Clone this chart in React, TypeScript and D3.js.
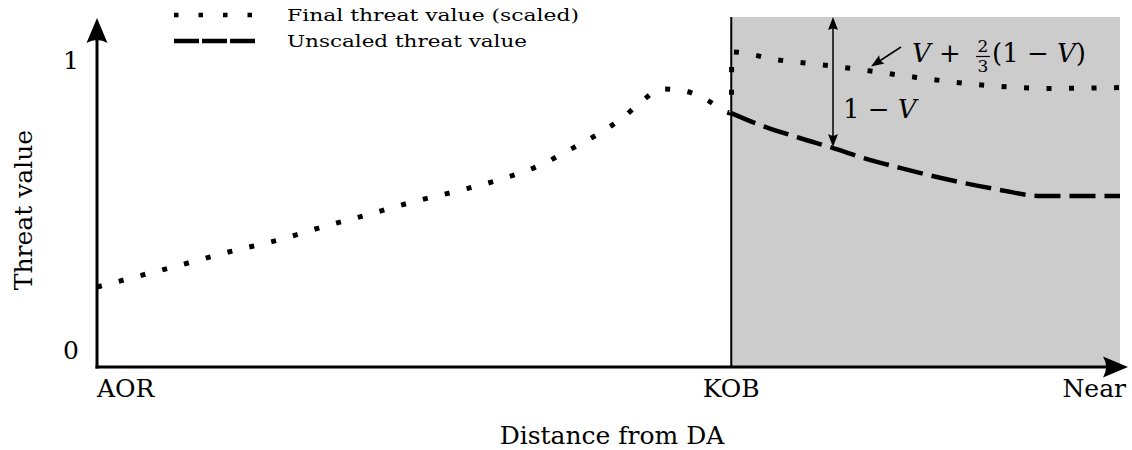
import { useRef, useEffect } from "react";
import { select, scaleLinear, line, curveMonotoneX } from "d3";

// distance: AOR = 0 ... Near = 100
const xTickLabels = ["AOR", "KOB", "Near"];
const xTickPos = [0, 62, 100];
const yTicks = [0, 1];

const finalDist = [
  0, 4.5, 8.9, 13.2, 17.7, 22, 26.4, 30.8, 35.2, 39.6, 43.8, 45.8, 47.8,
  49.8, 51.6, 53.3, 55.2, 57.5, 59.6, 62, 62.05, 66.6, 71, 75.6, 80.1, 84.7,
  89.1, 93.5, 100,
];
const finalValue = [
  0.217, 0.259, 0.3, 0.341, 0.379, 0.424, 0.466, 0.51, 0.548, 0.59, 0.645,
  0.683, 0.721, 0.762, 0.807, 0.859, 0.9, 0.893, 0.862, 0.817, 1.028, 1.0,
  0.983, 0.962, 0.94, 0.92, 0.907, 0.902, 0.905,
];

const unscaledDist = [62, 64.8, 68.7, 71.9, 75.6, 78.5, 83.4, 88.3, 92.2, 94.1, 100];
const unscaledValue = [0.817, 0.776, 0.731, 0.697, 0.655, 0.628, 0.586, 0.552, 0.531, 0.531, 0.531];

const legendLabels = ["Final threat value (scaled)", "Unscaled threat value"];

const W = 1132;
const H = 450;
const FONT = "'DejaVu Serif', serif";

const App = () => {
  const ref = useRef<SVGSVGElement>(null);

  useEffect(() => {
    if (!ref.current) return;
    const svg = select(ref.current);
    svg.selectAll("*").remove();

    const x = scaleLinear().domain([0, 100]).range([97, 1120]);
    const y = scaleLinear().domain([0, 1]).range([350, 60]);
    const baseY = 367;
    const topY = 17;

    const arrowHead = (tx: number, ty: number, angle: number, len: number, wid: number) =>
      svg
        .append("path")
        .attr(
          "d",
          `M0,0 L${-len},${-wid / 2} Q${-len * 0.75},0 ${-len},${wid / 2} Z`
        )
        .attr("transform", `translate(${tx},${ty}) rotate(${angle})`)
        .attr("fill", "#000");

    // shaded region beyond KOB
    svg
      .append("rect")
      .attr("x", x(62))
      .attr("y", topY)
      .attr("width", x(100) - x(62))
      .attr("height", baseY - topY)
      .attr("fill", "#cccccc");

    // KOB line
    svg
      .append("line")
      .attr("x1", x(62))
      .attr("x2", x(62))
      .attr("y1", topY)
      .attr("y2", baseY)
      .attr("stroke", "#000")
      .attr("stroke-width", 2);

    // axes
    svg
      .append("line")
      .attr("x1", x(0))
      .attr("x2", x(0))
      .attr("y1", baseY + 1.5)
      .attr("y2", 30)
      .attr("stroke", "#000")
      .attr("stroke-width", 3);
    arrowHead(x(0), 18, -90, 25, 21);
    svg
      .append("line")
      .attr("x1", x(0) - 1.5)
      .attr("x2", 1115)
      .attr("y1", baseY)
      .attr("y2", baseY)
      .attr("stroke", "#000")
      .attr("stroke-width", 3);
    arrowHead(1128, baseY, 0, 25, 21);

    const text = (
      str: string,
      tx: number,
      ty: number,
      size: number,
      anchor = "start",
      italic = false
    ) =>
      svg
        .append("text")
        .attr("x", tx)
        .attr("y", ty)
        .attr("font-family", FONT)
        .attr("font-size", size)
        .attr("font-style", italic ? "italic" : "normal")
        .attr("text-anchor", anchor)
        .attr("fill", "#000")
        .text(str);

    // y ticks
    yTicks.forEach((t) => text(String(t), 79, y(t) + 9, 25, "end"));

    // x tick labels
    xTickLabels.forEach((lab, i) => {
      const anchor = i === 0 ? "start" : i === xTickLabels.length - 1 ? "end" : "middle";
      const px = i === xTickLabels.length - 1 ? x(xTickPos[i]) + 6 : x(xTickPos[i]);
      text(lab, px, 397, 25, anchor);
    });

    text("Distance from DA", 612, 444, 25, "middle");
    svg
      .append("text")
      .attr("transform", "translate(32,210) rotate(-90)")
      .attr("font-family", FONT)
      .attr("font-size", 25)
      .attr("text-anchor", "middle")
      .text("Threat value");

    // curves
    const finalLine = line<number>()
      .x((_d, i) => x(finalDist[i]))
      .y((d) => y(d))
      .curve(curveMonotoneX);
    svg
      .append("path")
      .attr("d", finalLine(finalValue))
      .attr("fill", "none")
      .attr("stroke", "#000")
      .attr("stroke-width", 5)
      .attr("stroke-dasharray", "5 17.5");

    const unscaledLine = line<number>()
      .x((_d, i) => x(unscaledDist[i]))
      .y((d) => y(d))
      .curve(curveMonotoneX);
    svg
      .append("path")
      .attr("d", unscaledLine(unscaledValue))
      .attr("fill", "none")
      .attr("stroke", "#000")
      .attr("stroke-width", 4.5)
      .attr("stroke-dasharray", "26 9");

    // annotation: 1 - V double arrow
    const ax = 833;
    const k = unscaledDist.findIndex((d) => d >= x.invert(ax));
    const t0 = (x.invert(ax) - unscaledDist[k - 1]) / (unscaledDist[k] - unscaledDist[k - 1]);
    const vAt = unscaledValue[k - 1] + t0 * (unscaledValue[k] - unscaledValue[k - 1]);
    const ay = y(vAt) - 1;
    svg
      .append("line")
      .attr("x1", ax)
      .attr("x2", ax)
      .attr("y1", topY + 8)
      .attr("y2", ay - 8)
      .attr("stroke", "#000")
      .attr("stroke-width", 1.5);
    arrowHead(ax, topY, -90, 13, 10);
    arrowHead(ax, ay, 90, 13, 10);

    const lab1 = svg
      .append("text")
      .attr("x", 843)
      .attr("y", 118)
      .attr("font-family", FONT)
      .attr("font-size", 26);
    lab1.append("tspan").text("1 − ");
    lab1.append("tspan").attr("font-style", "italic").text("V");

    // annotation: V + 2/3(1 - V)
    svg
      .append("line")
      .attr("x1", 901)
      .attr("y1", 47)
      .attr("x2", 878)
      .attr("y2", 62)
      .attr("stroke", "#000")
      .attr("stroke-width", 1.5);
    arrowHead(871, 66.5, Math.atan2(15, -23) * 180 / Math.PI, 13, 10);

    const lab2 = svg
      .append("text")
      .attr("x", 912)
      .attr("y", 62)
      .attr("font-family", FONT)
      .attr("font-size", 26);
    lab2.append("tspan").attr("font-style", "italic").text("V");
    lab2.append("tspan").text(" + ");
    text("2", 983, 52, 17, "middle");
    text("3", 983, 72, 17, "middle");
    svg
      .append("line")
      .attr("x1", 976)
      .attr("x2", 990)
      .attr("y1", 56.5)
      .attr("y2", 56.5)
      .attr("stroke", "#000")
      .attr("stroke-width", 1.2);
    const lab3 = svg
      .append("text")
      .attr("x", 992)
      .attr("y", 62)
      .attr("font-family", FONT)
      .attr("font-size", 26);
    lab3.append("tspan").text("(1 − ");
    lab3.append("tspan").attr("font-style", "italic").text("V");
    lab3.append("tspan").text(")");

    // legend
    svg
      .append("line")
      .attr("x1", 174)
      .attr("x2", 254)
      .attr("y1", 15)
      .attr("y2", 15)
      .attr("stroke", "#000")
      .attr("stroke-width", 4.5)
      .attr("stroke-dasharray", "4.5 20");
    svg
      .append("line")
      .attr("x1", 174)
      .attr("x2", 256)
      .attr("y1", 41)
      .attr("y2", 41)
      .attr("stroke", "#000")
      .attr("stroke-width", 4.5)
      .attr("stroke-dasharray", "25 3");
    [292, 240].forEach((len, i) => {
      svg
        .append("text")
        .attr("x", 287)
        .attr("y", 21 + i * 26)
        .attr("font-family", FONT)
        .attr("font-size", 17)
        .attr("textLength", len)
        .attr("lengthAdjust", "spacingAndGlyphs")
        .text(legendLabels[i]);
    });

    return () => {
      svg.selectAll("*").remove();
    };
  }, []);

  return (
    <svg
      ref={ref}
      width={W}
      height={H}
      style={{ position: "absolute", left: 0, top: 0, background: "#fff" }}
    />
  );
};

export default App;
